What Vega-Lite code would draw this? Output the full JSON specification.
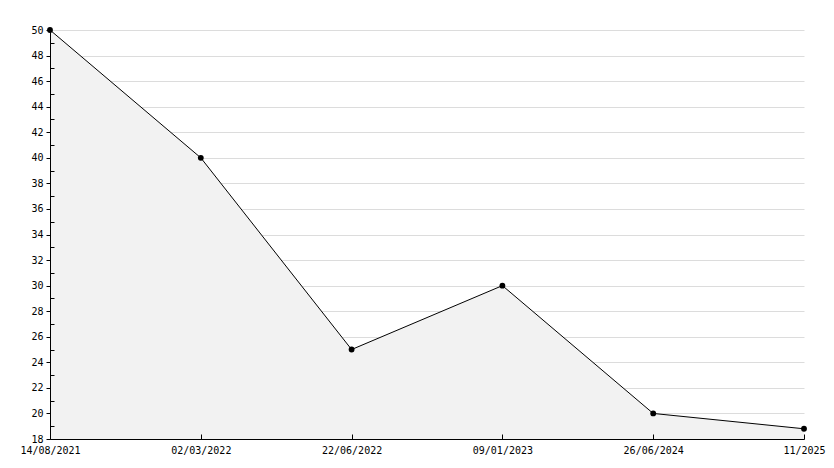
{
  "$schema": "https://vega.github.io/schema/vega-lite/v6.json",
  "width": 754,
  "height": 409,
  "autosize": {"type": "none"},
  "padding": {"left": 50, "top": 30, "right": 30, "bottom": 29},
  "background": "#ffffff",
  "config": {
    "view": {"stroke": null},
    "axis": {
      "labelFont": "DejaVu Sans Mono",
      "labelFontSize": 10,
      "labelColor": "#000000",
      "domainColor": "#000000",
      "tickColor": "#000000",
      "domainWidth": 1,
      "tickWidth": 1,
      "title": null
    }
  },
  "data": {
    "values": [
      {"date": "14/08/2021", "value": 50},
      {"date": "02/03/2022", "value": 40},
      {"date": "22/06/2022", "value": 25},
      {"date": "09/01/2023", "value": 30},
      {"date": "26/06/2024", "value": 20},
      {"date": "11/2025", "value": 18.8}
    ]
  },
  "layer": [
    {
      "mark": {"type": "area", "color": "#f2f2f2", "opacity": 1},
      "encoding": {
        "x": {
          "field": "date",
          "type": "ordinal",
          "sort": null,
          "scale": {"type": "point", "padding": 0},
          "axis": {
            "orient": "bottom",
            "labelAngle": 0,
            "ticks": false,
            "labelPadding": 6,
            "grid": false,
            "zindex": 1,
            "title": null
          }
        },
        "y": {
          "field": "value",
          "type": "quantitative",
          "scale": {"domain": [18, 50], "nice": false, "zero": false},
          "axis": {
            "orient": "left",
            "values": [18, 20, 22, 24, 26, 28, 30, 32, 34, 36, 38, 40, 42, 44, 46, 48, 50],
            "grid": true,
            "gridColor": "#dcdcdc",
            "gridWidth": 1,
            "labels": false,
            "ticks": false,
            "domain": false,
            "zindex": 0,
            "title": null
          }
        },
        "y2": {"datum": 18}
      }
    },
    {
      "mark": {"type": "line", "color": "#000000", "strokeWidth": 1},
      "encoding": {
        "x": {
          "field": "date",
          "type": "ordinal",
          "sort": null,
          "axis": {
            "orient": "bottom",
            "offset": -5,
            "tickSize": 5,
            "labels": false,
            "domain": false,
            "grid": false,
            "zindex": 1,
            "title": null
          }
        },
        "y": {
          "field": "value",
          "type": "quantitative",
          "axis": {
            "orient": "left",
            "values": [18, 20, 22, 24, 26, 28, 30, 32, 34, 36, 38, 40, 42, 44, 46, 48, 50],
            "grid": false,
            "tickSize": 4,
            "labelPadding": 3,
            "zindex": 1,
            "title": null
          }
        }
      }
    },
    {
      "mark": {"type": "point", "filled": true, "color": "#000000", "opacity": 1, "size": 34, "shape": "circle"},
      "encoding": {
        "x": {
          "field": "date",
          "type": "ordinal",
          "sort": null,
          "axis": null
        },
        "y": {
          "field": "value",
          "type": "quantitative",
          "axis": {
            "orient": "left",
            "offset": -4,
            "values": [19, 21, 23, 25, 27, 29, 31, 33, 35, 37, 39, 41, 43, 45, 47, 49],
            "grid": false,
            "labels": false,
            "domain": false,
            "tickSize": 4,
            "zindex": 1,
            "title": null
          }
        }
      }
    }
  ],
  "resolve": {"axis": {"x": "independent", "y": "independent"}}
}
